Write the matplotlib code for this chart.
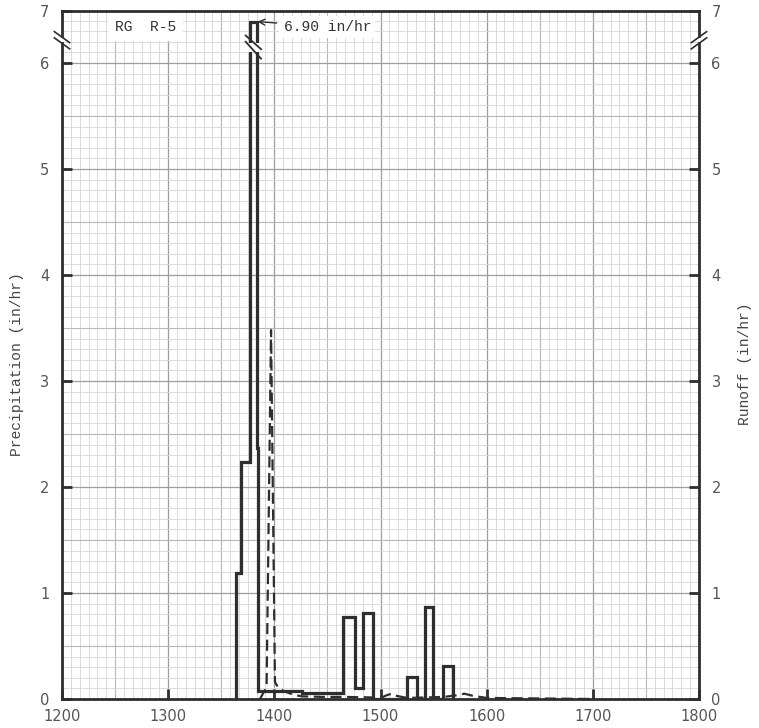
import numpy as np
import matplotlib
matplotlib.use("Agg")
import matplotlib.pyplot as plt

# Rainfall intensity steps at gauge RG R-5 (edges on the clock-time axis)
rain_edges = [1363.6, 1368.9, 1376.8, 1383.6, 1384.6, 1425.7, 1464.9, 1476.0,
              1483.8, 1492.6, 1525.2, 1534.7, 1542.2, 1549.7, 1559.2, 1568.6]
rain_rate = [1.19, 2.24, 6.90, 2.37, 0.08, 0.06, 0.77, 0.10,
             0.81, 0.0, 0.21, 0.0, 0.87, 0.0, 0.31]

# Runoff hydrograph
runoff_t = [1386.4, 1392.7, 1396.9, 1400.6, 1404.0, 1410.0, 1418.0, 1426.0,
            1445.0, 1465.0, 1490.0, 1500.0, 1507.0, 1511.0, 1515.0, 1525.0,
            1545.0, 1560.0, 1572.0, 1579.0, 1587.0, 1600.0, 1650.0, 1700.0]
runoff_q = [0.0, 0.11, 3.48, 0.16, 0.10, 0.07, 0.04, 0.025,
            0.02, 0.02, 0.015, 0.01, 0.04, 0.05, 0.03, 0.01,
            0.015, 0.02, 0.035, 0.05, 0.03, 0.01, 0.005, 0.0]

peak_label = "6.90 in/hr"
gauge_label = "RG  R-5"
y_tick_values = [0, 1, 2, 3, 4, 5, 6, 7]
x_tick_values = [1200, 1300, 1400, 1500, 1600, 1700, 1800]

# broken y axis: everything above 6.25 is squeezed into the top strip
brk_data = [-10.0, 0.0, 6.25, 6.90, 7.0, 100.0]
brk_paper = [-10.0, 0.0, 6.25, 6.39, 6.49, 99.49]


def to_paper(v):
    return np.interp(v, brk_data, brk_paper)


def from_paper(p):
    return np.interp(p, brk_paper, brk_data)


ink = "#2e2e2e"
label_font = "Liberation Mono"

fig = plt.figure(figsize=(7.59, 7.28), dpi=100)
ax = fig.add_axes([62 / 759, 1 - 699 / 728, 637 / 759, 688 / 728])
ax.set_yscale("function", functions=(to_paper, from_paper))
ax.set_xlim(1200, 1800)
ax.set_ylim(0, 7)

# graph paper
for k in range(1, 72):
    x = 1200 + k * 100 / 12
    if k % 12 == 0:
        c, w = "#9e9e9e", 0.9
    elif k % 6 == 0:
        c, w = "#b8b8b8", 0.8
    else:
        c, w = "#d6d6d6", 0.6
    ax.axvline(x, color=c, lw=w, zorder=0)
for i in range(1, 65):
    y = from_paper(i * 0.1)
    if i % 10 == 0:
        c, w = "#9e9e9e", 0.9
    elif i % 5 == 0:
        c, w = "#b8b8b8", 0.8
    else:
        c, w = "#d6d6d6", 0.6
    ax.axhline(y, color=c, lw=w, zorder=0)

# precipitation and runoff
ax.stairs(rain_rate, rain_edges, baseline=0, color=ink, lw=2.3, zorder=3)
ax.plot(runoff_t, runoff_q, color=ink, lw=1.6, linestyle=(0, (5, 2.5)), zorder=3)

# break on the peak bar
ax.fill_between([1374.0, 1387.0], 6.10, 6.19, color="white", lw=0, zorder=4)
for y0 in (6.13, 6.04):
    ax.plot([1373.0, 1387.5], [y0 + 0.16, y0], color=ink, lw=1.3, zorder=5)

# breaks on the side spines
for xa, sgn in ((0.0, 1), (1.0, -1)):
    ax.plot([xa - 0.004, xa + 0.004], [0.958, 0.958], transform=ax.transAxes,
            color="white", lw=3, clip_on=False, zorder=6,
            solid_capstyle="butt")
    for y0 in (0.962, 0.953):
        ax.plot([xa - 0.012, xa + 0.012], [y0 + sgn * 0.008, y0 - sgn * 0.008],
                transform=ax.transAxes, color=ink, lw=1.2, clip_on=False,
                zorder=7)

# labels inside the plot
ax.text(0.083, 0.977, gauge_label, transform=ax.transAxes, fontsize=10.5,
        family=label_font, color="#333333", ha="left", va="center",
        bbox=dict(facecolor="white", edgecolor="none", pad=5), zorder=8)
ax.annotate(peak_label, xy=(1384.2, 6.90), xycoords="data",
            xytext=(0.348, 0.977), textcoords="axes fraction",
            fontsize=10.5, family=label_font, color="#333333",
            ha="left", va="center",
            bbox=dict(facecolor="white", edgecolor="none", pad=3),
            arrowprops=dict(arrowstyle="->", color=ink, lw=1.0,
                            shrinkA=2, shrinkB=0),
            zorder=8)

# axes styling
for s in ax.spines.values():
    s.set_color(ink)
    s.set_linewidth(2.0)
ax.set_xticks(x_tick_values)
ax.set_xticklabels([str(v) for v in x_tick_values])
ax.set_yticks(y_tick_values)
ax.set_yticklabels([str(v) for v in y_tick_values])
ax.yaxis.set_minor_locator(matplotlib.ticker.NullLocator())
ax.xaxis.set_minor_locator(matplotlib.ticker.NullLocator())
ax.tick_params(axis="both", direction="in", length=7, width=2, color=ink,
               labelcolor="#555555", labelsize=10.5)
ax.tick_params(axis="y", left=True, right=True, labelleft=True,
               labelright=True, pad=9)
ax.tick_params(axis="x", bottom=True, top=False, pad=7)

fig.text(17 / 759, 0.5, "Precipitation (in/hr)", rotation=90, ha="center",
         va="center", fontsize=10.5, family=label_font, color="#444444")
fig.text(745 / 759, 0.5, "Runoff (in/hr)", rotation=90, ha="center",
         va="center", fontsize=10.5, family=label_font, color="#444444")

fig.savefig("out.png", dpi=100, facecolor="white")
